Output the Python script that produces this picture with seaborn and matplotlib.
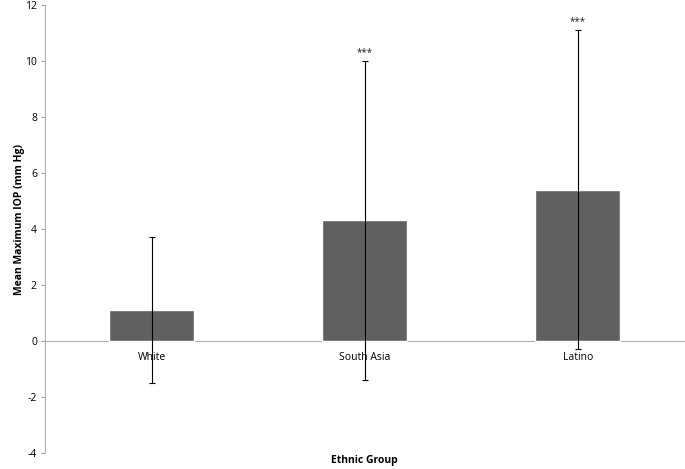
import matplotlib
matplotlib.use('Agg')
import matplotlib.pyplot as plt
import seaborn as sns
import pandas as pd

# Values
groups = ['White', 'South Asia', 'Latino']
mean_iop = [1.1, 4.3, 5.4]
err_iop = [2.6, 5.7, 5.7]
signif = ['', '***', '***']

df = pd.DataFrame({'group': groups, 'iop': mean_iop})

sns.set_style('white')
plt.rcParams['font.family'] = ['Open Sans', 'DejaVu Sans']
plt.rcParams['axes.unicode_minus'] = False  # plain hyphen like the original

fig = plt.figure(figsize=(6.85, 4.69), dpi=100)
ax = fig.add_axes([0.066, 0.034, 0.933, 0.956])

sns.barplot(data=df, x='group', y='iop', color='#606060', width=0.4,
            errorbar=None, saturation=1, ax=ax)

# error bars
ax.errorbar(range(len(groups)), mean_iop, yerr=err_iop, fmt='none',
            ecolor='black', elinewidth=0.8, capsize=2.5, capthick=0.8)

# significance stars above the error bars
for i, s in enumerate(signif):
    if s:
        ax.text(i, mean_iop[i] + err_iop[i] + 0.3, s, ha='center', va='center',
                fontsize=7, color='#222222')

ax.set_ylim(-4, 12)
ax.set_xlim(-0.5, 2.5)
ax.set_yticks(range(-4, 13, 2))
ax.tick_params(axis='y', length=3, color='#a0a0a0', labelsize=7.5, pad=3,
               left=True, labelcolor='black')
ax.tick_params(axis='x', length=0, labelsize=7.5, pad=8, labelcolor='black')

# axis look: spine at zero, grey lines
for side in ['top', 'right']:
    ax.spines[side].set_visible(False)
ax.spines['bottom'].set_position(('data', 0))
ax.spines['bottom'].set_color('#b0b0b0')
ax.spines['left'].set_color('#b0b0b0')
ax.spines['bottom'].set_zorder(0)

ax.set_xlabel('Ethnic Group', fontsize=7.5, fontweight='bold', color='black')
ax.set_ylabel('Mean Maximum IOP (mm Hg)', fontsize=7.5, fontweight='bold', color='black')
ax.xaxis.set_label_coords(0.5, -0.005)
ax.yaxis.set_label_coords(-0.031, 0.52)

plt.savefig('out.png', dpi=100)
